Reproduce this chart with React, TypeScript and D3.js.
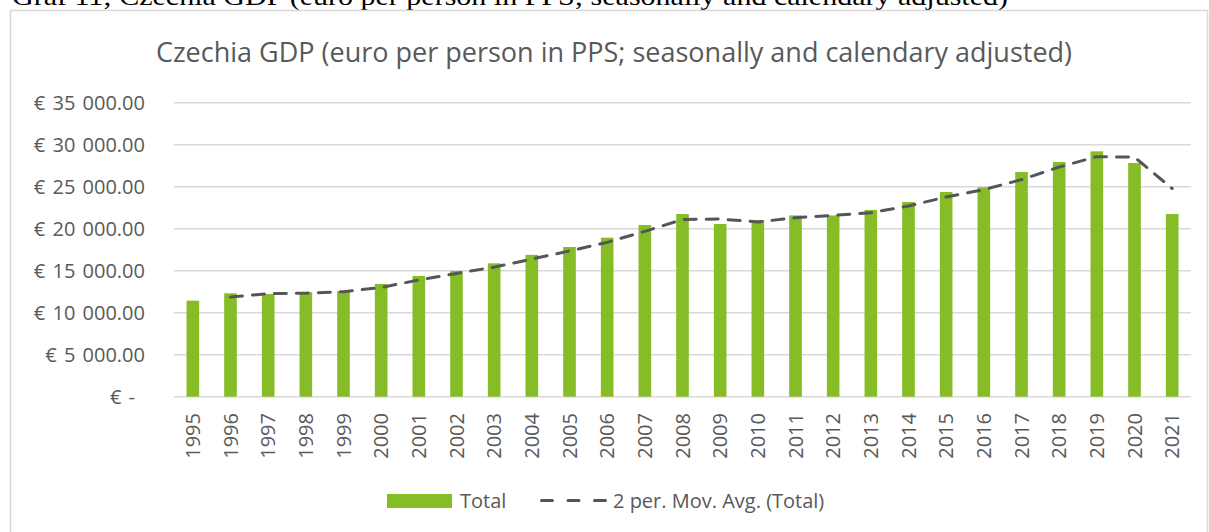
import React from "react";
import * as d3 from "d3";

const years: string[] = [
  "1995","1996","1997","1998","1999","2000","2001","2002","2003","2004",
  "2005","2006","2007","2008","2009","2010","2011","2012","2013","2014",
  "2015","2016","2017","2018","2019","2020","2021",
];

const totalValues: number[] = [
  11430, 12310, 12230, 12430, 12580, 13420, 14370, 14970, 15880, 16890,
  17820, 18930, 20440, 21750, 20560, 21040, 21580, 21580, 22230, 23180,
  24370, 24930, 26750, 27940, 29210, 27820, 21750,
];

// 2 per. Mov. Avg. (Total) (starts at 1996)
const movAvgYears: string[] = years.slice(1);
const movAvgValues: number[] = [
  11870, 12270, 12330, 12505, 13000, 13895, 14670, 15425, 16385, 17355,
  18375, 19685, 21095, 21155, 20800, 21310, 21580, 21905, 22705, 23775,
  24650, 25840, 27345, 28575, 28515, 24785,
];

const yTicks: number[] = [0, 5000, 10000, 15000, 20000, 25000, 30000, 35000];
const yTickLabels: string[] = [
  "€ -", "€ 5 000.00", "€ 10 000.00", "€ 15 000.00", "€ 20 000.00",
  "€ 25 000.00", "€ 30 000.00", "€ 35 000.00",
];

const docCaption = "Graf 11; Czechia GDP (euro per person in PPS; seasonally and calendary adjusted)";
const chartTitle = "Czechia GDP (euro per person in PPS; seasonally and calendary adjusted)";
const legendBar = "Total";
const legendLine = "2 per. Mov. Avg. (Total)";

const W = 1209;
const H = 532;
const plot = { left: 174, right: 1191, top: 102.7, bottom: 396.7 };
const GREEN = "#86BC25";
const GRID = "#d9d9d9";
const TEXT = "#595959";
const LINE = "#53565a";
const FONT = "'Open Sans', sans-serif";
const AXIS_FS = 20;

export default function App() {
  const x = d3.scaleBand<string>().domain(years).range([plot.left, plot.right]).padding(0);
  const y = d3.scaleLinear().domain([0, 35000]).range([plot.bottom, plot.top]);
  const bw = x.bandwidth();
  const barW = bw * 0.335;
  const cx = (d: string) => (x(d) as number) + bw / 2;

  const line = d3
    .line<number>()
    .x((_, i) => cx(movAvgYears[i]))
    .y((v) => y(v));

  return (
    <svg
      width={W}
      height={H}
      style={{ position: "absolute", left: 0, top: 0, display: "block", background: "#fff" }}
    >
      <rect x={0} y={0} width={W} height={H} fill="#fff" />
      {/* document caption, cut at top */}
      <text
        x={12}
        y={5}
        fontFamily="'Liberation Serif', 'Times New Roman', serif"
        fontSize={26}
        fill="#000"
        textLength={996}
        lengthAdjust="spacingAndGlyphs"
      >
        {docCaption}
      </text>
      {/* chart frame */}
      <rect x={10.5} y={10.5} width={1197} height={600} fill="#fff" stroke={GRID} strokeWidth={1.5} />

      {/* title */}
      <text x={614} y={62} textAnchor="middle" fontFamily={FONT} fontSize={27} fill={TEXT}>
        {chartTitle}
      </text>

      {/* gridlines */}
      {yTicks.map((t) => (
        <line
          key={"g" + t}
          x1={plot.left}
          x2={plot.right}
          y1={y(t)}
          y2={y(t)}
          stroke={GRID}
          strokeWidth={1.5}
        />
      ))}

      {/* y labels */}
      {yTicks.map((t, i) => (
        <text
          key={"yl" + t}
          x={t === 0 ? 135 : 145}
          y={y(t)}
          dy="0.35em"
          textAnchor="end"
          fontFamily={FONT}
          fontSize={AXIS_FS}
          wordSpacing={2}
          fill={TEXT}
        >
          {yTickLabels[i]}
        </text>
      ))}

      {/* bars */}
      {years.map((yr, i) => (
        <rect
          key={"b" + yr}
          x={cx(yr) - barW / 2}
          y={y(totalValues[i])}
          width={barW}
          height={y(0) - y(totalValues[i])}
          fill={GREEN}
        />
      ))}

      {/* moving average */}
      <path
        d={line(movAvgValues) || ""}
        fill="none"
        stroke={LINE}
        strokeWidth={3}
        strokeDasharray="12 10"
        strokeLinecap="round"
        strokeLinejoin="round"
      />

      {/* x labels */}
      {years.map((yr) => (
        <text
          key={"xl" + yr}
          transform={`translate(${cx(yr)},413) rotate(-90)`}
          dy="0.35em"
          textAnchor="end"
          fontFamily={FONT}
          fontSize={AXIS_FS}
          fill={TEXT}
        >
          {yr}
        </text>
      ))}

      {/* legend */}
      <rect x={387} y={494} width={65} height={14} fill={GREEN} />
      <text x={460} y={508} fontFamily={FONT} fontSize={AXIS_FS} fill={TEXT}>
        {legendBar}
      </text>
      <line
        x1={541.5}
        x2={605.5}
        y1={500.5}
        y2={500.5}
        stroke={LINE}
        strokeWidth={3}
        strokeDasharray="11 15.5"
        strokeLinecap="round"
      />
      <text x={613} y={508} fontFamily={FONT} fontSize={AXIS_FS} fill={TEXT}>
        {legendLine}
      </text>
    </svg>
  );
}
